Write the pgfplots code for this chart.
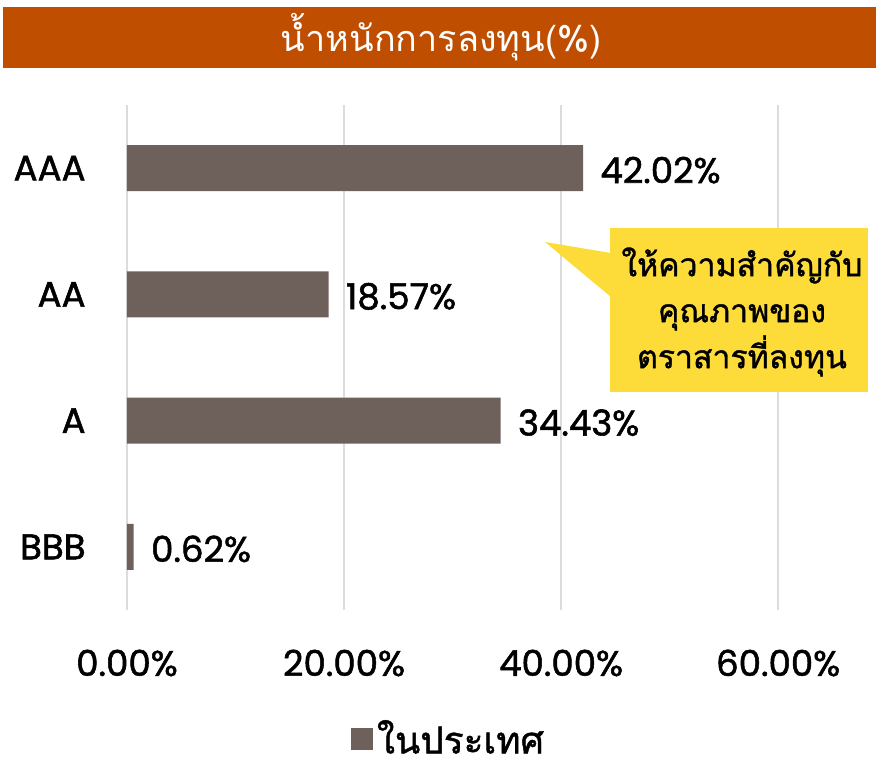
\documentclass[border=0pt]{standalone}
\usepackage{fontspec}
\setmainfont{Poppins}[FakeBold=1.5]
\newfontfamily\thaifont[Script=Thai]{Loma}
\newfontfamily\thaimed[Script=Thai, FakeBold=1.2]{Loma}
\usepackage{pgfplots}
\pgfplotsset{compat=1.18}
\definecolor{barc}{HTML}{6E605B}
\definecolor{titlec}{HTML}{BF4E00}
\definecolor{callc}{HTML}{FDDC3A}
\definecolor{gridc}{HTML}{DCDCDC}

\begin{document}
\begin{tikzpicture}[x=0.5pt,y=0.5pt]
\begin{axis}[scale only axis,
    width=369pt, height=252.5pt,
    xbar, bar width=23pt,
    xmin=0, xmax=68, ymin=-0.5, ymax=3.5,
    axis line style={draw=none}, major tick length=0pt,
    xmajorgrids, grid style={gridc, line width=1pt},
    xtick={0,20,40,60}, xticklabels={0.00\%,20.00\%,40.00\%,60.00\%},
    ytick={0,1,2,3}, yticklabels={BBB,A,AA,AAA},
    ticklabel style={font=\fontsize{17.8}{20}\selectfont, text=black},
    xticklabel style={anchor=center, yshift=-26.5pt, inner sep=0pt},
    yticklabel style={anchor=east, xshift=-20.5pt, inner sep=0pt},
    point meta=x,
    /pgf/number format/assume math mode=true,
    nodes near coords={\pgfmathprintnumber[fixed,fixed zerofill,precision=2]{\pgfplotspointmeta}\%},
    nodes near coords align={horizontal},
    every node near coord/.append style={anchor=west, inner sep=0pt, xshift=8.5pt, yshift=-1pt,
        font=\fontsize{17.8}{20}\selectfont, text=black},
    legend style={at={(0.437,-0.254)}, anchor=center, draw=none, fill=none,
        inner sep=0pt, font=\thaimed\fontsize{18.5}{22}\selectfont},
  ]
  \addplot[fill=barc, draw=none,
    legend image code/.code={\fill[barc] (0pt,-6pt) rectangle (11pt,5pt);}]
    coordinates {(0.62,0) (34.43,1) (18.57,2) (42.02,3)};
  \addlegendentry{ในประเทศ}
\end{axis}

% pixel frame of the reference: (px,-py), axis box corner at (127,610)
\begin{scope}[shift={(-127,610)}]
\useasboundingbox (0,0) rectangle (876,-761);
\fill[titlec] (3,-7) rectangle (876,-68);
\node[text=white, font=\thaifont\fontsize{18}{22}\selectfont] at (441,-37) {น้ำหนักการลงทุน(\%)};
\fill[callc] (610,-228) rectangle (868,-392);
\fill[callc] (545,-242) -- (611,-253) -- (611,-297) -- cycle;
\node[align=center, font=\thaimed\fontsize{16}{23}\selectfont] at (742,-312)
  {ให้ความสำคัญกับ\\คุณภาพของ\\ตราสารที่ลงทุน};
\end{scope}
\end{tikzpicture}
\end{document}
